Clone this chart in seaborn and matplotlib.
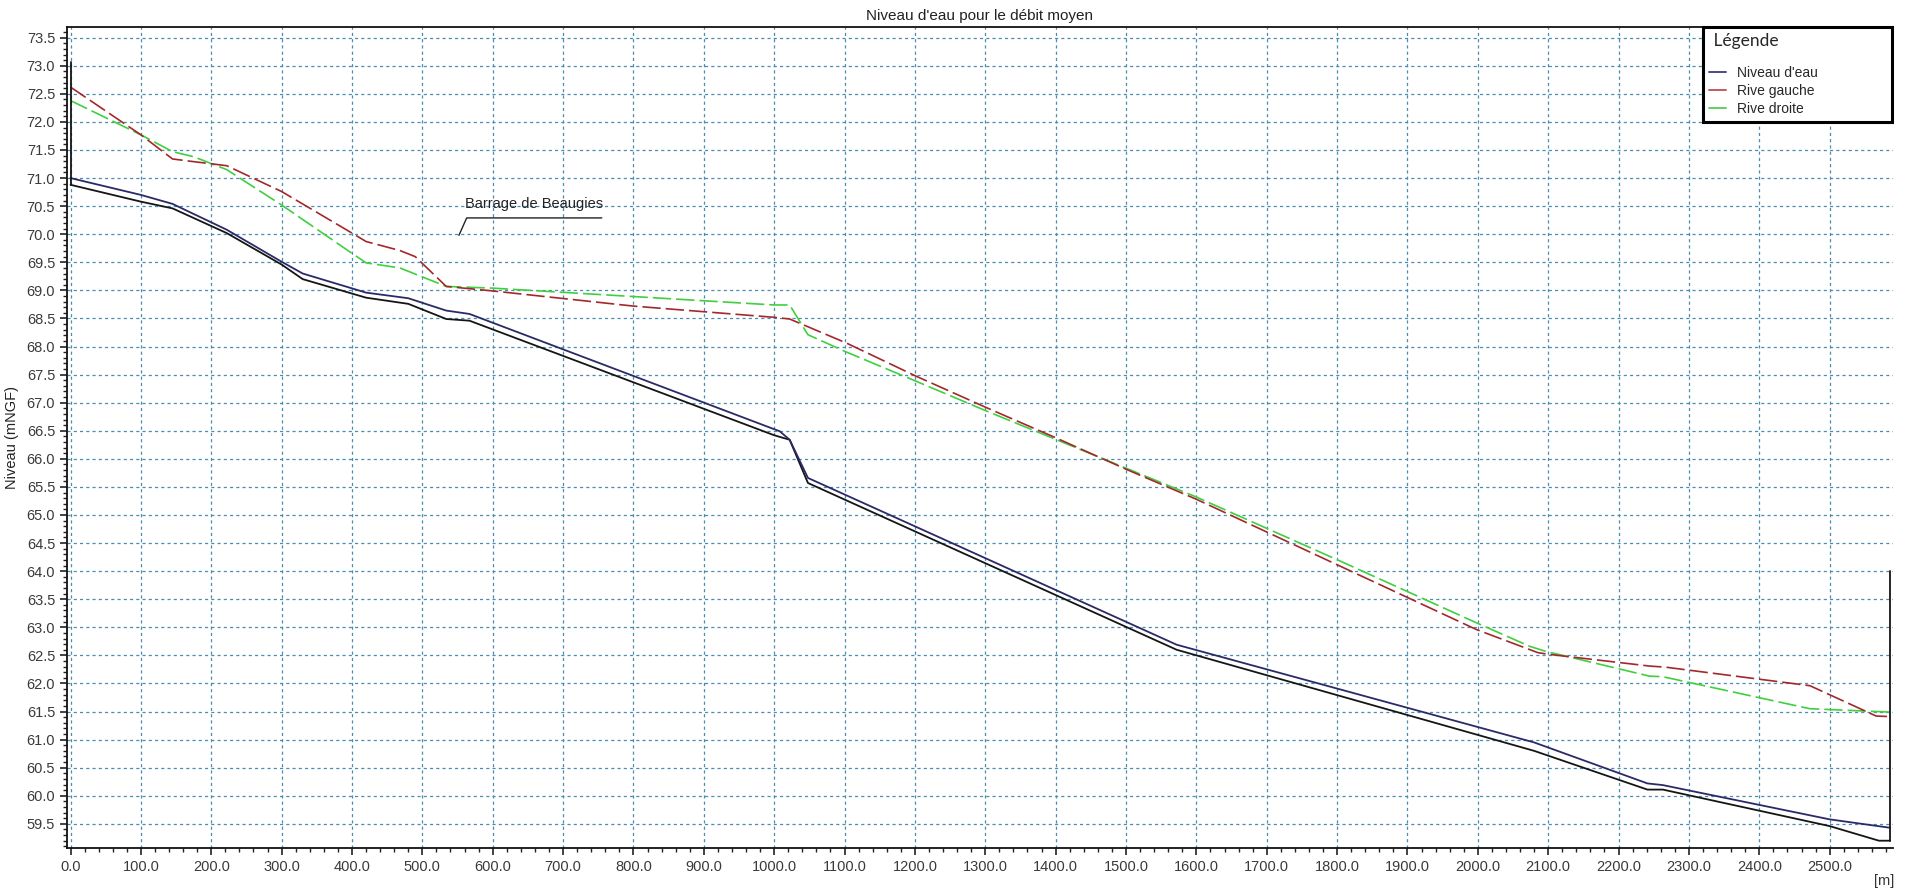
import matplotlib
matplotlib.use("Agg")
import matplotlib.pyplot as plt
import seaborn as sns
import numpy as np
import pandas as pd
from matplotlib.ticker import MultipleLocator, FormatStrFormatter
from matplotlib.lines import Line2D

# ---------------- data ----------------
navy_x = [0, 100, 145, 222, 300, 330, 420, 480, 534, 567, 1008, 1022, 1048, 1572, 2080, 2241, 2263, 2500, 2586]
navy_y = [71.00, 70.70, 70.54, 70.08, 69.51, 69.30, 68.96, 68.86, 68.64, 68.58, 66.49, 66.34, 65.66, 62.69, 60.95, 60.22, 60.19, 59.58, 59.43]

black_x = [0, 100, 145, 222, 300, 330, 420, 480, 534, 567, 1000, 1022, 1048, 1572, 2080, 2241, 2263, 2500, 2570, 2586]
black_y = [70.88, 70.58, 70.46, 70.02, 69.46, 69.20, 68.87, 68.76, 68.49, 68.46, 66.42, 66.34, 65.57, 62.60, 60.80, 60.11, 60.11, 59.46, 59.20, 59.20]

left_edge_x = [0, 0]
left_edge_y = [70.88, 73.07]
right_edge_x = [2586, 2586]
right_edge_y = [59.20, 64.00]

gauche_x = [0, 100, 145, 170, 222, 300, 400, 420, 468, 490, 534, 600, 800, 1000, 1022, 1103, 1202, 1302, 1401, 1501, 1600, 1799, 1998, 2085, 2100, 2244, 2267, 2472, 2566, 2586]
gauche_y = [72.62, 71.77, 71.34, 71.30, 71.22, 70.76, 70.02, 69.87, 69.71, 69.60, 69.07, 68.99, 68.72, 68.52, 68.49, 68.06, 67.47, 66.91, 66.37, 65.81, 65.28, 64.12, 62.96, 62.55, 62.52, 62.31, 62.29, 61.96, 61.42, 61.41]

droite_x = [0, 100, 145, 175, 222, 300, 400, 420, 468, 534, 600, 800, 1000, 1022, 1048, 1103, 1202, 1302, 1600, 1799, 1998, 2074, 2097, 2244, 2263, 2472, 2586]
droite_y = [72.38, 71.77, 71.47, 71.38, 71.15, 70.52, 69.66, 69.49, 69.40, 69.07, 69.04, 68.89, 68.74, 68.74, 68.21, 67.90, 67.38, 66.85, 65.32, 64.21, 63.08, 62.66, 62.57, 62.13, 62.12, 61.55, 61.49]

series_labels = ["Niveau d'eau", "Rive gauche", "Rive droite"]
title_text = "Niveau d'eau pour le débit moyen"
ylabel_text = "Niveau (mNGF)"
xunit_text = "[m]"
annotation_text = "Barrage de Beaugies"

# ---------------- style ----------------
sns.set_theme(style="white")
plt.rcParams["font.family"] = ["Liberation Sans", "DejaVu Sans"]
plt.rcParams["axes.linewidth"] = 1.3

fig = plt.figure(figsize=(19.14, 8.92), dpi=100)
ax = fig.add_axes([67 / 1914, 1 - 848 / 892, (1893 - 67) / 1914, (848 - 27) / 892])

grid_col = "#4a8db0"

def line(x, y, **kw):
    sns.lineplot(x=x, y=y, ax=ax, sort=False, estimator=None, legend=False, **kw)

line(droite_x, droite_y, color="#3fcf3f", linewidth=1.2, dashes=False)
line(gauche_x, gauche_y, color="#a3282c", linewidth=1.2, dashes=False)
for l in ax.lines:
    l.set_dashes((11, 3))
line(black_x, black_y, color="#151515", linewidth=1.3)
line(navy_x, navy_y, color="#2a2a68", linewidth=1.3)
line(left_edge_x, left_edge_y, color="#151515", linewidth=1.3)
line(right_edge_x, right_edge_y, color="#151515", linewidth=1.3)

ax.set_xlim(-5, 2590)
ax.set_ylim(59.07, 73.69)

ax.xaxis.set_major_locator(MultipleLocator(100))
ax.xaxis.set_minor_locator(MultipleLocator(20))
ax.yaxis.set_major_locator(MultipleLocator(0.5))
ax.yaxis.set_minor_locator(MultipleLocator(0.1))
ax.xaxis.set_major_formatter(FormatStrFormatter("%.1f"))
ax.yaxis.set_major_formatter(FormatStrFormatter("%.1f"))

ax.tick_params(axis="both", which="major", direction="out", length=5, width=1.2,
               colors="#222222", labelsize=10.5, left=True, bottom=True)
ax.tick_params(axis="both", which="minor", direction="out", length=3, width=1.0,
               colors="#222222", left=True, bottom=True)
for lab in ax.get_xticklabels() + ax.get_yticklabels():
    lab.set_color("#3a3a3a")

ax.grid(True, which="major", color=grid_col, linestyle=(0, (2.5, 2.5)), linewidth=0.9)
ax.set_axisbelow(True)
ax.spines["right"].set_visible(False)
for s in ["left", "bottom", "top"]:
    ax.spines[s].set_color("#111111")

ax.set_title(title_text, fontsize=11, color="#222222", pad=5)
ax.set_ylabel(ylabel_text, fontsize=10.5, color="#222222")
ax.yaxis.set_label_coords((19.5 - 67) / 1826, 0.5)
ax.set_xlabel("")
fig.text(1884 / 1914, 1 - 881 / 892, xunit_text, ha="center", va="center", fontsize=10.5, color="#333333")

# annotation
ax.plot([552, 563, 755], [69.98, 70.29, 70.29], color="#222222", linewidth=1.0)
ax.text(659, 70.42, annotation_text, ha="center", va="bottom", fontsize=10.5, color="#222222")

# legend
handles = [Line2D([], [], color="#4a4a82", linewidth=1.4),
           Line2D([], [], color="#c25a5a", linewidth=1.4),
           Line2D([], [], color="#5fd05f", linewidth=1.4)]
leg = fig.legend(handles, series_labels, loc="upper left",
                 bbox_to_anchor=(1703 / 1914, 1 - 27 / 892, (1892 - 1703) / 1914, 0.0),
                 mode="expand", frameon=True, fancybox=False, fontsize=10,
                 title=" Légende", title_fontproperties={"family": "Lato", "size": 12.5},
                 alignment="left", handlelength=1.2, handletextpad=0.8,
                 labelspacing=0.28, borderpad=0.45, borderaxespad=0)
leg._legend_box.sep = 12
leg.get_frame().set_edgecolor("black")
leg.get_frame().set_linewidth(2.2)
leg.get_frame().set_facecolor("white")
leg.get_frame().set_alpha(1)

fig.savefig("out.png", dpi=100, facecolor="white")
